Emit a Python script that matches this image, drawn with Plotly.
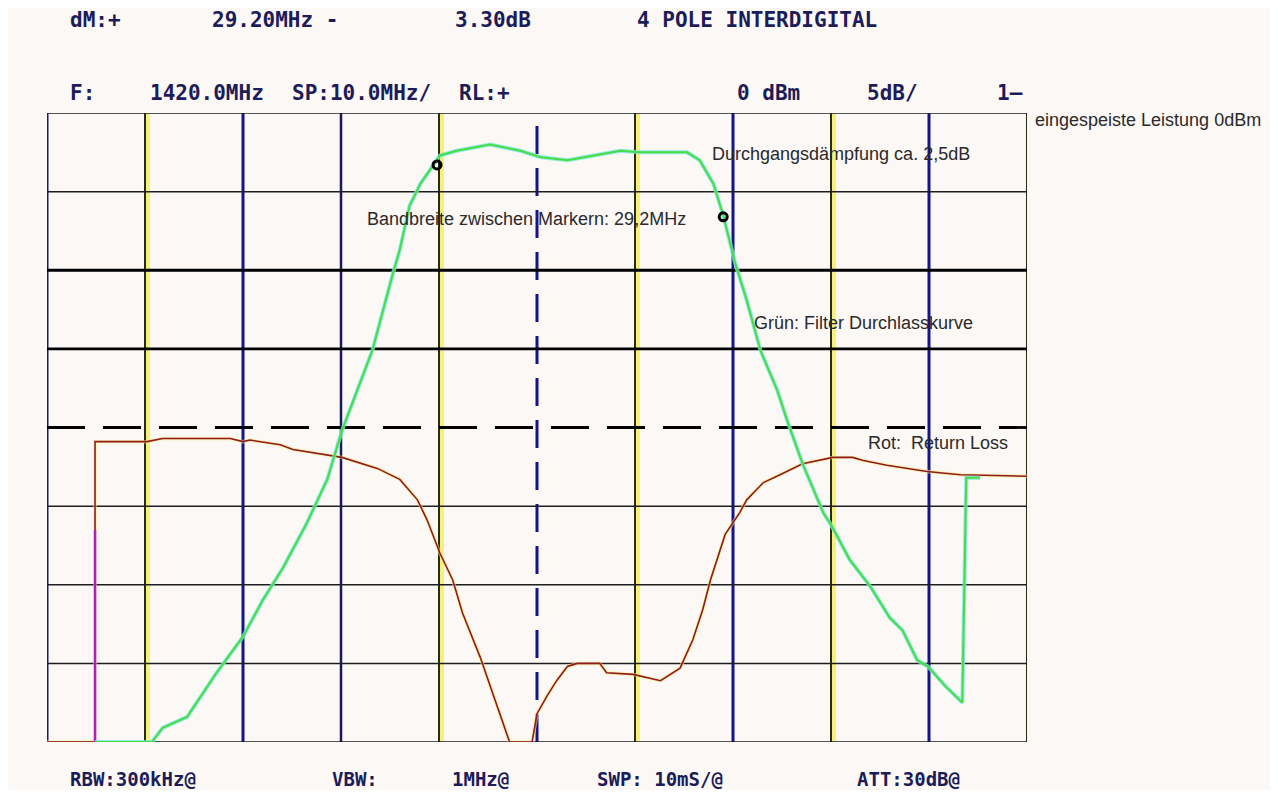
import plotly.graph_objects as go

# ---------------- data (MHz, dB) ----------------
green_f = [1374.9, 1380.7, 1381.8, 1384.3, 1387.3, 1390.0, 1392.0, 1394.1, 1396.5, 1398.6,
           1400.1, 1402.2, 1403.2, 1405.3, 1406.0, 1407.0, 1408.1, 1409.1, 1410.1, 1411.8,
           1415.2, 1418.3, 1420.3, 1423.1, 1425.7, 1428.5, 1430.5, 1435.3, 1436.6, 1438.0,
           1439.0, 1440.2, 1441.4, 1442.8, 1444.5, 1445.5, 1447.1, 1449.2, 1450.1, 1451.9,
           1454.0, 1456.0, 1457.3, 1458.8, 1459.9, 1461.6, 1463.4, 1463.6, 1463.8, 1465.2]
green_db = [-40.0, -40.0, -39.1, -38.4, -35.6, -33.3, -31.0, -28.9, -26.1, -23.3,
            -20.2, -16.8, -15.1, -10.2, -8.7, -5.9, -4.5, -3.6, -2.7, -2.4,
            -2.0, -2.4, -2.8, -3.0, -2.7, -2.4, -2.5, -2.5, -3.0, -4.5,
            -6.5, -9.5, -11.9, -15.1, -17.6, -19.5, -22.3, -25.4, -26.3, -28.4,
            -30.1, -32.1, -32.9, -34.8, -35.2, -36.4, -37.5, -29.2, -23.2, -23.2]

red_f = [1370.0, 1374.8, 1374.9, 1374.9, 1375.4, 1380.2, 1381.8, 1385.3, 1388.7, 1390.0,
         1390.7, 1393.8, 1395.1, 1400.1, 1403.7, 1406.0, 1407.8, 1408.8, 1410.1, 1411.4,
         1412.4, 1414.2, 1415.5, 1416.9, 1417.2, 1419.5, 1420.0, 1421.0, 1422.0, 1423.1,
         1424.1, 1426.4, 1427.1, 1429.8, 1432.6, 1434.6, 1435.3, 1435.9, 1436.9, 1437.7,
         1439.2, 1440.7, 1441.4, 1443.1, 1444.8, 1447.1, 1450.2, 1452.2, 1453.3, 1455.7,
         1459.8, 1463.2, 1470.0]
red_db = [-40.0, -40.0, -40.0, -20.9, -20.9, -20.9, -20.7, -20.7, -20.7, -20.9,
          -20.8, -21.1, -21.4, -21.9, -22.6, -23.3, -24.6, -25.9, -28.0, -29.7,
          -31.8, -34.6, -36.9, -39.4, -40.0, -40.0, -38.2, -37.1, -36.1, -35.2,
          -35.0, -35.0, -35.6, -35.7, -36.1, -35.3, -34.3, -33.5, -31.6, -29.7,
          -26.8, -25.4, -24.6, -23.5, -23.0, -22.3, -21.9, -21.9, -22.1, -22.4,
          -22.8, -23.0, -23.1]

marker_f = [1409.8, 1439.0]
marker_db = [-3.3, -6.6]

x_grid = [1370, 1380, 1390, 1400, 1410, 1420, 1430, 1440, 1450, 1460, 1470]
x_grid_style = ["blue", "by", "blue", "navy", "by", "dash", "by", "blue", "by", "blue", "by"]
y_grid = [0, -5, -10, -15, -20, -25, -30, -35, -40]
y_grid_style = ["thin", "thin", "thick", "thick", "dash", "thin", "thin", "thin", "thin"]

header_row1 = [("dM:+", 68), ("29.20MHz -", 210), ("3.30dB", 453), ("4 POLE INTERDIGITAL", 635)]
header_row2 = [("F:", 68), ("1420.0MHz", 148), ("SP:10.0MHz/", 290), ("RL:+", 457),
               ("0 dBm", 735), ("5dB/", 865), ("1\u2014", 995)]
footer_row = [("RBW:300kHz@", 68), ("VBW:", 330), ("1MHz@", 450), ("SWP: 10mS/@", 595), ("ATT:30dB@", 855)]

notes = [("eingespeiste Leistung 0dBm", 1033, 120),
         ("Durchgangsdämpfung ca. 2,5dB", 710, 154),
         ("Bandbreite zwischen Markern: 29,2MHz", 365, 219),
         ("Grün: Filter Durchlasskurve", 752, 323),
         ("Rot:\u00a0 Return Loss", 866, 443)]

# ---------------- layout helpers ----------------
PAGE_OFF = 8  # default body margin of the html page
W, H = 1278 - 2 * PAGE_OFF, 798 - 2 * PAGE_OFF
L, R, T, B = 47, 1027, 113, 742  # plot area in page pixels


def px(x):
    return (x - L) / (R - L)


def py(y):
    return (B - y) / (B - T)


BG = "#fbf8f6"
fig = go.Figure()

# red trace (yellow fringe + line)
fig.add_trace(go.Scatter(x=red_f, y=red_db, mode="lines",
                         line=dict(color="rgba(250,235,120,0.6)", width=3.5), hoverinfo="skip",
                         showlegend=False))
fig.add_trace(go.Scatter(x=red_f, y=red_db, mode="lines",
                         line=dict(color="#8e1a24", width=1.6), showlegend=False, name="Return Loss"))
fig.add_trace(go.Scatter(x=red_f[2:4], y=[red_db[2], -26.5], mode="lines",
                         line=dict(color="#b020c0", width=2.5), showlegend=False, hoverinfo="skip"))

# green trace
fig.add_trace(go.Scatter(x=green_f, y=green_db, mode="lines",
                         line=dict(color="rgba(120,230,220,0.8)", width=4), hoverinfo="skip",
                         showlegend=False))
fig.add_trace(go.Scatter(x=green_f, y=green_db, mode="lines",
                         line=dict(color="#48dc48", width=2), showlegend=False, name="Durchlass"))

# markers
fig.add_trace(go.Scatter(x=marker_f, y=marker_db, mode="markers",
                         marker=dict(symbol="circle-open", size=8, color="black",
                                     line=dict(width=3, color="black")),
                         showlegend=False))

shapes = []
off = 0.3  # yellow shadow offset in MHz
for xv, st in zip(x_grid, x_grid_style):
    if st == "blue":
        shapes.append(dict(type="line", xref="x", yref="y", x0=xv, x1=xv, y0=-40, y1=0,
                           line=dict(color="#14148c", width=3), layer="below"))
    elif st == "navy":
        shapes.append(dict(type="line", xref="x", yref="y", x0=xv, x1=xv, y0=-40, y1=0,
                           line=dict(color="#1a1a5a", width=2.5), layer="below"))
    elif st == "dash":
        shapes.append(dict(type="line", xref="x", yref="y", x0=xv, x1=xv, y0=-40, y1=0,
                           line=dict(color="#14148c", width=3, dash="28px,14px"), layer="below"))
    else:
        shapes.append(dict(type="line", xref="x", yref="y", x0=xv + off, x1=xv + off, y0=-40, y1=0,
                           line=dict(color="#f4f07a", width=4), layer="below"))
        shapes.append(dict(type="line", xref="x", yref="y", x0=xv, x1=xv, y0=-40, y1=0,
                           line=dict(color="#2a2a1a", width=2), layer="below"))

for yv, st in zip(y_grid, y_grid_style):
    if st == "thick":
        ln = dict(color="#000000", width=2.8)
    elif st == "dash":
        ln = dict(color="#000000", width=2.8, dash="38px,18px")
    else:
        ln = dict(color="#1e1e1e", width=1.5)
    shapes.append(dict(type="line", xref="x", yref="y", x0=1370, x1=1470, y0=yv, y1=yv,
                       line=ln, layer="below"))

annotations = []
mono = dict(family="DejaVu Sans Mono", size=21, color="#1c1c58")
mono_small = dict(family="DejaVu Sans Mono", size=19, color="#1c1c58")
for row, yy, fnt in ((header_row1, 20, mono), (header_row2, 93, mono), (footer_row, 779, mono_small)):
    for txt, xx in row:
        annotations.append(dict(text="<b>" + txt + "</b>", xref="paper", yref="paper",
                                x=px(xx), y=py(yy), xanchor="left", yanchor="middle",
                                showarrow=False, font=fnt))
for txt, xx, yy in notes:
    annotations.append(dict(text=txt, xref="paper", yref="paper", x=px(xx), y=py(yy),
                            xanchor="left", yanchor="middle", showarrow=False,
                            font=dict(family="Liberation Sans", size=18, color="#2a2a2a")))

fig.update_layout(
    width=W, height=H,
    margin=dict(l=L - PAGE_OFF, r=(W + PAGE_OFF) - R, t=T - PAGE_OFF, b=(H + PAGE_OFF) - B),
    paper_bgcolor=BG, plot_bgcolor=BG,
    xaxis=dict(range=[1370, 1470], showgrid=False, zeroline=False, showticklabels=False,
               ticks="", showline=False, fixedrange=True),
    yaxis=dict(range=[-40, 0], showgrid=False, zeroline=False, showticklabels=False,
               ticks="", showline=False, fixedrange=True),
    shapes=shapes,
    annotations=annotations,
    showlegend=False,
)

fig.write_html("out.html", config={"displayModeBar": False})
